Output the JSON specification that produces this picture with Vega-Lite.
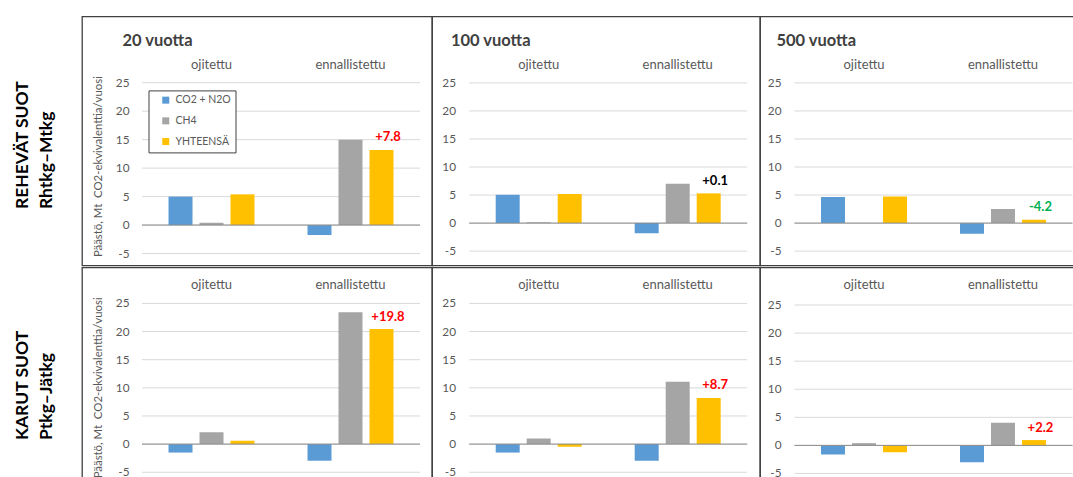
{
  "$schema": "https://vega.github.io/schema/vega-lite/v6.json",
  "padding": {"left": 13, "top": 15.4, "right": 0, "bottom": 0},
  "datasets": {
    "bars": [
      {"p": "a20", "cat": "ojitettu", "series": "CO2 + N2O", "val": 5.0, "lab": null},
      {"p": "a20", "cat": "ojitettu", "series": "CH4", "val": 0.4, "lab": null},
      {"p": "a20", "cat": "ojitettu", "series": "YHTEENSÄ", "val": 5.4, "lab": null},
      {"p": "a20", "cat": "ennallistettu", "series": "CO2 + N2O", "val": -1.75, "lab": null},
      {"p": "a20", "cat": "ennallistettu", "series": "CH4", "val": 15.0, "lab": null},
      {"p": "a20", "cat": "ennallistettu", "series": "YHTEENSÄ", "val": 13.2, "lab": "+7.8"},
      {"p": "a100", "cat": "ojitettu", "series": "CO2 + N2O", "val": 5.05, "lab": null},
      {"p": "a100", "cat": "ojitettu", "series": "CH4", "val": 0.15, "lab": null},
      {"p": "a100", "cat": "ojitettu", "series": "YHTEENSÄ", "val": 5.2, "lab": null},
      {"p": "a100", "cat": "ennallistettu", "series": "CO2 + N2O", "val": -1.8, "lab": null},
      {"p": "a100", "cat": "ennallistettu", "series": "CH4", "val": 7.0, "lab": null},
      {"p": "a100", "cat": "ennallistettu", "series": "YHTEENSÄ", "val": 5.3, "lab": "+0.1"},
      {"p": "a500", "cat": "ojitettu", "series": "CO2 + N2O", "val": 4.65, "lab": null},
      {"p": "a500", "cat": "ojitettu", "series": "CH4", "val": 0, "lab": null},
      {"p": "a500", "cat": "ojitettu", "series": "YHTEENSÄ", "val": 4.75, "lab": null},
      {"p": "a500", "cat": "ennallistettu", "series": "CO2 + N2O", "val": -1.9, "lab": null},
      {"p": "a500", "cat": "ennallistettu", "series": "CH4", "val": 2.5, "lab": null},
      {"p": "a500", "cat": "ennallistettu", "series": "YHTEENSÄ", "val": 0.6, "lab": "-4.2"},
      {"p": "b20", "cat": "ojitettu", "series": "CO2 + N2O", "val": -1.5, "lab": null},
      {"p": "b20", "cat": "ojitettu", "series": "CH4", "val": 2.1, "lab": null},
      {"p": "b20", "cat": "ojitettu", "series": "YHTEENSÄ", "val": 0.6, "lab": null},
      {"p": "b20", "cat": "ennallistettu", "series": "CO2 + N2O", "val": -2.95, "lab": null},
      {"p": "b20", "cat": "ennallistettu", "series": "CH4", "val": 23.45, "lab": null},
      {"p": "b20", "cat": "ennallistettu", "series": "YHTEENSÄ", "val": 20.45, "lab": "+19.8"},
      {"p": "b100", "cat": "ojitettu", "series": "CO2 + N2O", "val": -1.5, "lab": null},
      {"p": "b100", "cat": "ojitettu", "series": "CH4", "val": 1.0, "lab": null},
      {"p": "b100", "cat": "ojitettu", "series": "YHTEENSÄ", "val": -0.45, "lab": null},
      {"p": "b100", "cat": "ennallistettu", "series": "CO2 + N2O", "val": -2.95, "lab": null},
      {"p": "b100", "cat": "ennallistettu", "series": "CH4", "val": 11.1, "lab": null},
      {"p": "b100", "cat": "ennallistettu", "series": "YHTEENSÄ", "val": 8.2, "lab": "+8.7"},
      {"p": "b500", "cat": "ojitettu", "series": "CO2 + N2O", "val": -1.6, "lab": null},
      {"p": "b500", "cat": "ojitettu", "series": "CH4", "val": 0.4, "lab": null},
      {"p": "b500", "cat": "ojitettu", "series": "YHTEENSÄ", "val": -1.2, "lab": null},
      {"p": "b500", "cat": "ennallistettu", "series": "CO2 + N2O", "val": -3.0, "lab": null},
      {"p": "b500", "cat": "ennallistettu", "series": "CH4", "val": 4.05, "lab": null},
      {"p": "b500", "cat": "ennallistettu", "series": "YHTEENSÄ", "val": 0.95, "lab": "+2.2"}
    ],
    "grid": [{"v": -5}, {"v": 0}, {"v": 5}, {"v": 10}, {"v": 15}, {"v": 20}, {"v": 25}]
  },
  "data": {"name": "bars"},
  "spacing": 0,
  "resolve": {"scale": {"color": "independent"}, "legend": {"color": "independent"}},
  "vconcat": [
    {
      "title": {"text": ["REHEVÄT SUOT", "Rhtkg–Mtkg"], "orient": "left", "anchor": "start", "frame": "bounds", "align": "left", "offset": 12, "dx": 57, "baseline": "alphabetic", "lineHeight": 24.3, "fontSize": 17.5, "font": "Lato", "fontWeight": "bold", "color": "#000000"},
      "spacing": 0,
      "bounds": "flush",
      "resolve": {"scale": {"color": "independent"}, "legend": {"color": "independent"}},
      "hconcat": [
        {
          "width": 350, "height": 249,
          "title": {"text": "20 vuotta", "anchor": "start", "frame": "group", "offset": -46.5, "dx": 40.5, "baseline": "alphabetic", "fontSize": 16.5, "fontWeight": "bold", "font": "Lato", "color": "#404040"},
          "resolve": {"scale": {"x": "independent", "xOffset": "independent"}},
          "layer": [
            {"data": {"name": "grid"}, "mark": {"type": "rule", "color": "#d9d9d9", "strokeWidth": 1},
             "encoding": {
               "y": {"field": "v", "type": "quantitative", "scale": {"domain": [-7.08, 36.64], "nice": false, "zero": false}, "axis": null},
               "x": {"datum": 0, "type": "quantitative", "scale": {"domain": [0, 1], "range": [60, 338]}, "axis": null},
               "x2": {"datum": 1}}},
            {"data": {"name": "grid"}, "mark": {"type": "text", "align": "right", "baseline": "middle", "dx": -12.5, "fontSize": 11.8, "font": "Lato", "color": "#595959"},
             "encoding": {
               "y": {"field": "v", "type": "quantitative", "scale": {"domain": [-7.08, 36.64], "nice": false, "zero": false}, "axis": null},
               "x": {"datum": 0, "type": "quantitative", "scale": {"domain": [0, 1], "range": [60, 338]}, "axis": null},
               "text": {"field": "v", "type": "nominal"}}},
            {"data": {"name": "grid"}, "transform": [{"filter": "datum.v == 10"}], "mark": {"type": "text", "angle": -90, "align": "center", "baseline": "middle", "dy": -42.7, "dx": 1.5, "fontSize": 11.4, "font": "Lato", "color": "#595959"},
             "encoding": {
               "y": {"field": "v", "type": "quantitative", "scale": {"domain": [-7.08, 36.64], "nice": false, "zero": false}, "axis": null},
               "x": {"datum": 0, "type": "quantitative", "scale": {"domain": [0, 1], "range": [60, 338]}, "axis": null},
               "text": {"value": "Päästö, Mt\u00a0 CO2-ekvivalenttia/vuosi"}}},
            {"transform": [{"filter": "datum.p == 'a20'"}], "mark": {"type": "bar"},
             "encoding": {
               "x": {"field": "cat", "type": "nominal", "scale": {"domain": ["ojitettu", "ennallistettu"], "range": [60, 338], "paddingInner": 0, "paddingOuter": 0}, "axis": {"orient": "top", "offset": -51.7, "title": null}},
               "xOffset": {"field": "series", "type": "nominal", "scale": {"domain": ["CO2 + N2O", "CH4", "YHTEENSÄ"], "paddingInner": 0.226, "paddingOuter": 0.855}},
               "y": {"field": "val", "type": "quantitative", "scale": {"domain": [-7.08, 36.64], "nice": false, "zero": false}, "axis": null},
               "color": {"field": "series", "type": "nominal", "scale": {"domain": ["CO2 + N2O", "CH4", "YHTEENSÄ"], "range": ["#5B9BD5", "#A5A5A5", "#FFC000"]},
                         "legend": {"orient": "none", "legendX": 66.5, "legendY": 74, "title": null, "strokeColor": "#404040", "fillColor": "#ffffff", "padding": 4.5, "symbolType": "square", "symbolSize": 49, "symbolStrokeWidth": 0, "symbolOffset": 7.5, "labelFont": "Lato", "labelFontSize": 10.5, "labelColor": "#595959", "rowPadding": 9.7, "labelOffset": 4.5}}}},
            {"data": {"name": "grid"}, "transform": [{"filter": "datum.v == 0"}], "mark": {"type": "rule", "color": "#8c8c8c", "strokeWidth": 1},
             "encoding": {
               "y": {"field": "v", "type": "quantitative", "scale": {"domain": [-7.08, 36.64], "nice": false, "zero": false}, "axis": null},
               "x": {"datum": 0, "type": "quantitative", "scale": {"domain": [0, 1], "range": [60, 338]}, "axis": null},
               "x2": {"datum": 1}}},
            {"transform": [{"filter": "datum.p == 'a20' && datum.lab != null"}], "mark": {"type": "text", "fontWeight": "bold", "fontSize": 13, "font": "Lato", "baseline": "middle", "dy": -12.5},
             "encoding": {
               "x": {"field": "cat", "type": "nominal", "scale": {"domain": ["ojitettu", "ennallistettu"], "range": [60, 338], "paddingInner": 0, "paddingOuter": 0}, "axis": null},
               "xOffset": {"field": "series", "type": "nominal", "scale": {"domain": ["CO2 + N2O", "CH4", "YHTEENSÄ"], "paddingInner": 0.226, "paddingOuter": 0.855}},
               "y": {"field": "val", "type": "quantitative", "scale": {"domain": [-7.08, 36.64], "nice": false, "zero": false}, "axis": null},
               "text": {"field": "lab"},
               "color": {"condition": [{"test": "toNumber(datum.lab) < 0", "value": "#00B050"}, {"test": "toNumber(datum.lab) > 0.5", "value": "#FF0000"}], "value": "#000000"}}}
          ]
        },
        {
          "width": 328, "height": 249,
          "title": {"text": "100 vuotta", "anchor": "start", "frame": "group", "offset": -46.5, "dx": 19, "baseline": "alphabetic", "fontSize": 16.5, "fontWeight": "bold", "font": "Lato", "color": "#404040"},
          "resolve": {"scale": {"x": "independent", "xOffset": "independent"}},
          "layer": [
            {"data": {"name": "grid"}, "mark": {"type": "rule", "color": "#d9d9d9", "strokeWidth": 1},
             "encoding": {
               "y": {"field": "v", "type": "quantitative", "scale": {"domain": [-7.54, 36.86], "nice": false, "zero": false}, "axis": null},
               "x": {"datum": 0, "type": "quantitative", "scale": {"domain": [0, 1], "range": [37.2, 315.2]}, "axis": null},
               "x2": {"datum": 1}}},
            {"data": {"name": "grid"}, "mark": {"type": "text", "align": "right", "baseline": "middle", "dx": -13.2, "fontSize": 11.8, "font": "Lato", "color": "#595959"},
             "encoding": {
               "y": {"field": "v", "type": "quantitative", "scale": {"domain": [-7.54, 36.86], "nice": false, "zero": false}, "axis": null},
               "x": {"datum": 0, "type": "quantitative", "scale": {"domain": [0, 1], "range": [37.2, 315.2]}, "axis": null},
               "text": {"field": "v", "type": "nominal"}}},
            {"transform": [{"filter": "datum.p == 'a100'"}], "mark": {"type": "bar"},
             "encoding": {
               "x": {"field": "cat", "type": "nominal", "scale": {"domain": ["ojitettu", "ennallistettu"], "range": [37.2, 315.2], "paddingInner": 0, "paddingOuter": 0}, "axis": {"orient": "top", "offset": -51.7, "title": null}},
               "xOffset": {"field": "series", "type": "nominal", "scale": {"domain": ["CO2 + N2O", "CH4", "YHTEENSÄ"], "paddingInner": 0.226, "paddingOuter": 0.855}},
               "y": {"field": "val", "type": "quantitative", "scale": {"domain": [-7.54, 36.86], "nice": false, "zero": false}, "axis": null},
               "color": {"field": "series", "type": "nominal", "scale": {"domain": ["CO2 + N2O", "CH4", "YHTEENSÄ"], "range": ["#5B9BD5", "#A5A5A5", "#FFC000"]}, "legend": null}}},
            {"data": {"name": "grid"}, "transform": [{"filter": "datum.v == 0"}], "mark": {"type": "rule", "color": "#8c8c8c", "strokeWidth": 1},
             "encoding": {
               "y": {"field": "v", "type": "quantitative", "scale": {"domain": [-7.54, 36.86], "nice": false, "zero": false}, "axis": null},
               "x": {"datum": 0, "type": "quantitative", "scale": {"domain": [0, 1], "range": [37.2, 315.2]}, "axis": null},
               "x2": {"datum": 1}}},
            {"transform": [{"filter": "datum.p == 'a100' && datum.lab != null"}], "mark": {"type": "text", "fontWeight": "bold", "fontSize": 13, "font": "Lato", "baseline": "middle", "dy": -12.5},
             "encoding": {
               "x": {"field": "cat", "type": "nominal", "scale": {"domain": ["ojitettu", "ennallistettu"], "range": [37.2, 315.2], "paddingInner": 0, "paddingOuter": 0}, "axis": null},
               "xOffset": {"field": "series", "type": "nominal", "scale": {"domain": ["CO2 + N2O", "CH4", "YHTEENSÄ"], "paddingInner": 0.226, "paddingOuter": 0.855}},
               "y": {"field": "val", "type": "quantitative", "scale": {"domain": [-7.54, 36.86], "nice": false, "zero": false}, "axis": null},
               "text": {"field": "lab"},
               "color": {"condition": [{"test": "toNumber(datum.lab) < 0", "value": "#00B050"}, {"test": "toNumber(datum.lab) > 0.5", "value": "#FF0000"}], "value": "#000000"}}}
          ]
        },
        {
          "width": 328, "height": 249,
          "title": {"text": "500 vuotta", "anchor": "start", "frame": "group", "offset": -46.5, "dx": 16.5, "baseline": "alphabetic", "fontSize": 16.5, "fontWeight": "bold", "font": "Lato", "color": "#404040"},
          "resolve": {"scale": {"x": "independent", "xOffset": "independent"}},
          "layer": [
            {"data": {"name": "grid"}, "mark": {"type": "rule", "color": "#d9d9d9", "strokeWidth": 1},
             "encoding": {
               "y": {"field": "v", "type": "quantitative", "scale": {"domain": [-7.54, 36.86], "nice": false, "zero": false}, "axis": null},
               "x": {"datum": 0, "type": "quantitative", "scale": {"domain": [0, 1], "range": [34.5, 312.5]}, "axis": null},
               "x2": {"datum": 1}}},
            {"data": {"name": "grid"}, "mark": {"type": "text", "align": "right", "baseline": "middle", "dx": -13, "fontSize": 11.8, "font": "Lato", "color": "#595959"},
             "encoding": {
               "y": {"field": "v", "type": "quantitative", "scale": {"domain": [-7.54, 36.86], "nice": false, "zero": false}, "axis": null},
               "x": {"datum": 0, "type": "quantitative", "scale": {"domain": [0, 1], "range": [34.5, 312.5]}, "axis": null},
               "text": {"field": "v", "type": "nominal"}}},
            {"transform": [{"filter": "datum.p == 'a500'"}], "mark": {"type": "bar"},
             "encoding": {
               "x": {"field": "cat", "type": "nominal", "scale": {"domain": ["ojitettu", "ennallistettu"], "range": [34.5, 312.5], "paddingInner": 0, "paddingOuter": 0}, "axis": {"orient": "top", "offset": -51.7, "title": null}},
               "xOffset": {"field": "series", "type": "nominal", "scale": {"domain": ["CO2 + N2O", "CH4", "YHTEENSÄ"], "paddingInner": 0.226, "paddingOuter": 0.855}},
               "y": {"field": "val", "type": "quantitative", "scale": {"domain": [-7.54, 36.86], "nice": false, "zero": false}, "axis": null},
               "color": {"field": "series", "type": "nominal", "scale": {"domain": ["CO2 + N2O", "CH4", "YHTEENSÄ"], "range": ["#5B9BD5", "#A5A5A5", "#FFC000"]}, "legend": null}}},
            {"data": {"name": "grid"}, "transform": [{"filter": "datum.v == 0"}], "mark": {"type": "rule", "color": "#8c8c8c", "strokeWidth": 1},
             "encoding": {
               "y": {"field": "v", "type": "quantitative", "scale": {"domain": [-7.54, 36.86], "nice": false, "zero": false}, "axis": null},
               "x": {"datum": 0, "type": "quantitative", "scale": {"domain": [0, 1], "range": [34.5, 312.5]}, "axis": null},
               "x2": {"datum": 1}}},
            {"transform": [{"filter": "datum.p == 'a500' && datum.lab != null"}], "mark": {"type": "text", "fontWeight": "bold", "fontSize": 13, "font": "Lato", "baseline": "middle", "dy": -12.5},
             "encoding": {
               "x": {"field": "cat", "type": "nominal", "scale": {"domain": ["ojitettu", "ennallistettu"], "range": [34.5, 312.5], "paddingInner": 0, "paddingOuter": 0}, "axis": null},
               "xOffset": {"field": "series", "type": "nominal", "scale": {"domain": ["CO2 + N2O", "CH4", "YHTEENSÄ"], "paddingInner": 0.226, "paddingOuter": 0.855}},
               "y": {"field": "val", "type": "quantitative", "scale": {"domain": [-7.54, 36.86], "nice": false, "zero": false}, "axis": null},
               "text": {"field": "lab"},
               "color": {"condition": [{"test": "toNumber(datum.lab) < 0", "value": "#00B050"}, {"test": "toNumber(datum.lab) > 0.5", "value": "#FF0000"}], "value": "#000000"}}}
          ]
        }
      ]
    },
    {
      "title": {"text": ["KARUT SUOT", "Ptkg–Jätkg"], "orient": "left", "anchor": "start", "frame": "bounds", "align": "left", "offset": 12, "dx": 78, "baseline": "alphabetic", "lineHeight": 24.3, "fontSize": 17.5, "font": "Lato", "fontWeight": "bold", "color": "#000000"},
      "spacing": 0,
      "bounds": "flush",
      "resolve": {"scale": {"color": "independent"}, "legend": {"color": "independent"}},
      "hconcat": [
        {
          "width": 350, "height": 250,
          "resolve": {"scale": {"x": "independent", "xOffset": "independent"}},
          "layer": [
            {"data": {"name": "grid"}, "mark": {"type": "rule", "color": "#d9d9d9", "strokeWidth": 1},
             "encoding": {
               "y": {"field": "v", "type": "quantitative", "scale": {"domain": [-13.02, 31.4], "nice": false, "zero": false}, "axis": null},
               "x": {"datum": 0, "type": "quantitative", "scale": {"domain": [0, 1], "range": [60, 338]}, "axis": null},
               "x2": {"datum": 1}}},
            {"data": {"name": "grid"}, "mark": {"type": "text", "align": "right", "baseline": "middle", "dx": -12.5, "fontSize": 11.8, "font": "Lato", "color": "#595959"},
             "encoding": {
               "y": {"field": "v", "type": "quantitative", "scale": {"domain": [-13.02, 31.4], "nice": false, "zero": false}, "axis": null},
               "x": {"datum": 0, "type": "quantitative", "scale": {"domain": [0, 1], "range": [60, 338]}, "axis": null},
               "text": {"field": "v", "type": "nominal"}}},
            {"data": {"name": "grid"}, "transform": [{"filter": "datum.v == 10"}], "mark": {"type": "text", "angle": -90, "align": "center", "baseline": "middle", "dy": -42.7, "fontSize": 11.4, "font": "Lato", "color": "#595959"},
             "encoding": {
               "y": {"field": "v", "type": "quantitative", "scale": {"domain": [-13.02, 31.4], "nice": false, "zero": false}, "axis": null},
               "x": {"datum": 0, "type": "quantitative", "scale": {"domain": [0, 1], "range": [60, 338]}, "axis": null},
               "text": {"value": "Päästö, Mt\u00a0 CO2-ekvivalenttia/vuosi"}}},
            {"transform": [{"filter": "datum.p == 'b20'"}], "mark": {"type": "bar"},
             "encoding": {
               "x": {"field": "cat", "type": "nominal", "scale": {"domain": ["ojitettu", "ennallistettu"], "range": [60, 338], "paddingInner": 0, "paddingOuter": 0}, "axis": {"orient": "top", "offset": -21, "title": null}},
               "xOffset": {"field": "series", "type": "nominal", "scale": {"domain": ["CO2 + N2O", "CH4", "YHTEENSÄ"], "paddingInner": 0.226, "paddingOuter": 0.855}},
               "y": {"field": "val", "type": "quantitative", "scale": {"domain": [-13.02, 31.4], "nice": false, "zero": false}, "axis": null},
               "color": {"field": "series", "type": "nominal", "scale": {"domain": ["CO2 + N2O", "CH4", "YHTEENSÄ"], "range": ["#5B9BD5", "#A5A5A5", "#FFC000"]}, "legend": null}}},
            {"data": {"name": "grid"}, "transform": [{"filter": "datum.v == 0"}], "mark": {"type": "rule", "color": "#8c8c8c", "strokeWidth": 1},
             "encoding": {
               "y": {"field": "v", "type": "quantitative", "scale": {"domain": [-13.02, 31.4], "nice": false, "zero": false}, "axis": null},
               "x": {"datum": 0, "type": "quantitative", "scale": {"domain": [0, 1], "range": [60, 338]}, "axis": null},
               "x2": {"datum": 1}}},
            {"transform": [{"filter": "datum.p == 'b20' && datum.lab != null"}], "mark": {"type": "text", "fontWeight": "bold", "fontSize": 13, "font": "Lato", "baseline": "middle", "dy": -12.5},
             "encoding": {
               "x": {"field": "cat", "type": "nominal", "scale": {"domain": ["ojitettu", "ennallistettu"], "range": [60, 338], "paddingInner": 0, "paddingOuter": 0}, "axis": null},
               "xOffset": {"field": "series", "type": "nominal", "scale": {"domain": ["CO2 + N2O", "CH4", "YHTEENSÄ"], "paddingInner": 0.226, "paddingOuter": 0.855}},
               "y": {"field": "val", "type": "quantitative", "scale": {"domain": [-13.02, 31.4], "nice": false, "zero": false}, "axis": null},
               "text": {"field": "lab"},
               "color": {"condition": [{"test": "toNumber(datum.lab) < 0", "value": "#00B050"}, {"test": "toNumber(datum.lab) > 0.5", "value": "#FF0000"}], "value": "#000000"}}}
          ]
        },
        {
          "width": 328, "height": 250,
          "resolve": {"scale": {"x": "independent", "xOffset": "independent"}},
          "layer": [
            {"data": {"name": "grid"}, "mark": {"type": "rule", "color": "#d9d9d9", "strokeWidth": 1},
             "encoding": {
               "y": {"field": "v", "type": "quantitative", "scale": {"domain": [-13.02, 31.4], "nice": false, "zero": false}, "axis": null},
               "x": {"datum": 0, "type": "quantitative", "scale": {"domain": [0, 1], "range": [37.2, 315.2]}, "axis": null},
               "x2": {"datum": 1}}},
            {"data": {"name": "grid"}, "mark": {"type": "text", "align": "right", "baseline": "middle", "dx": -13.2, "fontSize": 11.8, "font": "Lato", "color": "#595959"},
             "encoding": {
               "y": {"field": "v", "type": "quantitative", "scale": {"domain": [-13.02, 31.4], "nice": false, "zero": false}, "axis": null},
               "x": {"datum": 0, "type": "quantitative", "scale": {"domain": [0, 1], "range": [37.2, 315.2]}, "axis": null},
               "text": {"field": "v", "type": "nominal"}}},
            {"transform": [{"filter": "datum.p == 'b100'"}], "mark": {"type": "bar"},
             "encoding": {
               "x": {"field": "cat", "type": "nominal", "scale": {"domain": ["ojitettu", "ennallistettu"], "range": [37.2, 315.2], "paddingInner": 0, "paddingOuter": 0}, "axis": {"orient": "top", "offset": -21, "title": null}},
               "xOffset": {"field": "series", "type": "nominal", "scale": {"domain": ["CO2 + N2O", "CH4", "YHTEENSÄ"], "paddingInner": 0.226, "paddingOuter": 0.855}},
               "y": {"field": "val", "type": "quantitative", "scale": {"domain": [-13.02, 31.4], "nice": false, "zero": false}, "axis": null},
               "color": {"field": "series", "type": "nominal", "scale": {"domain": ["CO2 + N2O", "CH4", "YHTEENSÄ"], "range": ["#5B9BD5", "#A5A5A5", "#FFC000"]}, "legend": null}}},
            {"data": {"name": "grid"}, "transform": [{"filter": "datum.v == 0"}], "mark": {"type": "rule", "color": "#8c8c8c", "strokeWidth": 1},
             "encoding": {
               "y": {"field": "v", "type": "quantitative", "scale": {"domain": [-13.02, 31.4], "nice": false, "zero": false}, "axis": null},
               "x": {"datum": 0, "type": "quantitative", "scale": {"domain": [0, 1], "range": [37.2, 315.2]}, "axis": null},
               "x2": {"datum": 1}}},
            {"transform": [{"filter": "datum.p == 'b100' && datum.lab != null"}], "mark": {"type": "text", "fontWeight": "bold", "fontSize": 13, "font": "Lato", "baseline": "middle", "dy": -12.5},
             "encoding": {
               "x": {"field": "cat", "type": "nominal", "scale": {"domain": ["ojitettu", "ennallistettu"], "range": [37.2, 315.2], "paddingInner": 0, "paddingOuter": 0}, "axis": null},
               "xOffset": {"field": "series", "type": "nominal", "scale": {"domain": ["CO2 + N2O", "CH4", "YHTEENSÄ"], "paddingInner": 0.226, "paddingOuter": 0.855}},
               "y": {"field": "val", "type": "quantitative", "scale": {"domain": [-13.02, 31.4], "nice": false, "zero": false}, "axis": null},
               "text": {"field": "lab"},
               "color": {"condition": [{"test": "toNumber(datum.lab) < 0", "value": "#00B050"}, {"test": "toNumber(datum.lab) > 0.5", "value": "#FF0000"}], "value": "#000000"}}}
          ]
        },
        {
          "width": 328, "height": 250,
          "resolve": {"scale": {"x": "independent", "xOffset": "independent"}},
          "layer": [
            {"data": {"name": "grid"}, "mark": {"type": "rule", "color": "#d9d9d9", "strokeWidth": 1},
             "encoding": {
               "y": {"field": "v", "type": "quantitative", "scale": {"domain": [-12.82, 31.7], "nice": false, "zero": false}, "axis": null},
               "x": {"datum": 0, "type": "quantitative", "scale": {"domain": [0, 1], "range": [34.5, 312.5]}, "axis": null},
               "x2": {"datum": 1}}},
            {"data": {"name": "grid"}, "mark": {"type": "text", "align": "right", "baseline": "middle", "dx": -13, "fontSize": 11.8, "font": "Lato", "color": "#595959"},
             "encoding": {
               "y": {"field": "v", "type": "quantitative", "scale": {"domain": [-12.82, 31.7], "nice": false, "zero": false}, "axis": null},
               "x": {"datum": 0, "type": "quantitative", "scale": {"domain": [0, 1], "range": [34.5, 312.5]}, "axis": null},
               "text": {"field": "v", "type": "nominal"}}},
            {"transform": [{"filter": "datum.p == 'b500'"}], "mark": {"type": "bar"},
             "encoding": {
               "x": {"field": "cat", "type": "nominal", "scale": {"domain": ["ojitettu", "ennallistettu"], "range": [34.5, 312.5], "paddingInner": 0, "paddingOuter": 0}, "axis": {"orient": "top", "offset": -21, "title": null}},
               "xOffset": {"field": "series", "type": "nominal", "scale": {"domain": ["CO2 + N2O", "CH4", "YHTEENSÄ"], "paddingInner": 0.226, "paddingOuter": 0.855}},
               "y": {"field": "val", "type": "quantitative", "scale": {"domain": [-12.82, 31.7], "nice": false, "zero": false}, "axis": null},
               "color": {"field": "series", "type": "nominal", "scale": {"domain": ["CO2 + N2O", "CH4", "YHTEENSÄ"], "range": ["#5B9BD5", "#A5A5A5", "#FFC000"]}, "legend": null}}},
            {"data": {"name": "grid"}, "transform": [{"filter": "datum.v == 0"}], "mark": {"type": "rule", "color": "#8c8c8c", "strokeWidth": 1},
             "encoding": {
               "y": {"field": "v", "type": "quantitative", "scale": {"domain": [-12.82, 31.7], "nice": false, "zero": false}, "axis": null},
               "x": {"datum": 0, "type": "quantitative", "scale": {"domain": [0, 1], "range": [34.5, 312.5]}, "axis": null},
               "x2": {"datum": 1}}},
            {"transform": [{"filter": "datum.p == 'b500' && datum.lab != null"}], "mark": {"type": "text", "fontWeight": "bold", "fontSize": 13, "font": "Lato", "baseline": "middle", "dy": -12.5},
             "encoding": {
               "x": {"field": "cat", "type": "nominal", "scale": {"domain": ["ojitettu", "ennallistettu"], "range": [34.5, 312.5], "paddingInner": 0, "paddingOuter": 0}, "axis": null},
               "xOffset": {"field": "series", "type": "nominal", "scale": {"domain": ["CO2 + N2O", "CH4", "YHTEENSÄ"], "paddingInner": 0.226, "paddingOuter": 0.855}},
               "y": {"field": "val", "type": "quantitative", "scale": {"domain": [-12.82, 31.7], "nice": false, "zero": false}, "axis": null},
               "text": {"field": "lab"},
               "color": {"condition": [{"test": "toNumber(datum.lab) < 0", "value": "#00B050"}, {"test": "toNumber(datum.lab) > 0.5", "value": "#FF0000"}], "value": "#000000"}}}
          ]
        }
      ]
    }
  ],
  "config": {
    "view": {"stroke": "#404040", "strokeWidth": 1.3},
    "font": "Lato",
    "axis": {"labelFont": "Lato", "labelColor": "#595959", "labelFontSize": 13, "ticks": false, "domain": false, "grid": false, "labelPadding": 0, "titleFont": "Lato", "titleFontWeight": "normal", "titleColor": "#595959", "titleFontSize": 10.5},
    "axisX": {"labelAngle": 0, "labelBaseline": "alphabetic"}
  }
}
